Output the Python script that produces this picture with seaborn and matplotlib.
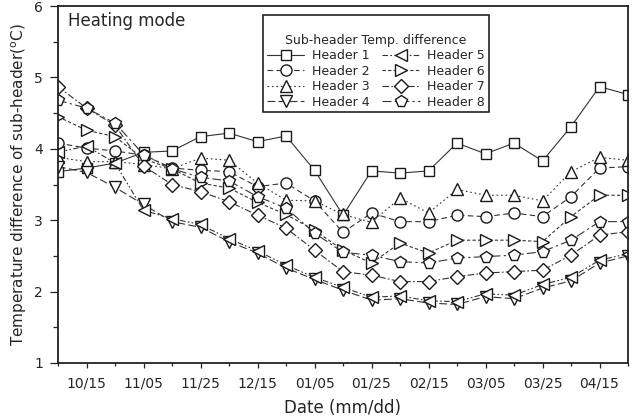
import numpy as np
import matplotlib
matplotlib.use('Agg')
import matplotlib.pyplot as plt
import seaborn as sns

# ------------------------------------------------------------
# data (~10 day interval)
# ------------------------------------------------------------
dates = ['10/05', '10/15', '10/25', '11/05', '11/15', '11/25', '12/05',
         '12/15', '12/25', '01/05', '01/15', '01/25', '02/05', '02/15',
         '02/25', '03/05', '03/15', '03/25', '04/05', '04/15', '04/25']

header1 = [3.68, 3.73, 3.80, 3.95, 3.97, 4.17, 4.22, 4.10, 4.18, 3.70, 3.07,
           3.69, 3.66, 3.69, 4.08, 3.93, 4.08, 3.83, 4.31, 4.87, 4.76]
header2 = [4.08, 4.01, 3.97, 3.91, 3.73, 3.70, 3.68, 3.47, 3.52, 3.27, 2.83,
           3.10, 2.98, 2.98, 3.07, 3.05, 3.10, 3.05, 3.33, 3.73, 3.75]
header3 = [3.88, 3.82, 3.82, 3.78, 3.72, 3.87, 3.84, 3.52, 3.28, 3.27, 3.08,
           2.97, 3.31, 3.10, 3.43, 3.35, 3.35, 3.27, 3.68, 3.88, 3.84]
header4 = [3.75, 3.67, 3.46, 3.22, 2.98, 2.90, 2.70, 2.54, 2.33, 2.17, 2.02,
           1.88, 1.90, 1.84, 1.82, 1.93, 1.90, 2.05, 2.15, 2.40, 2.50]
header5 = [3.95, 4.04, 3.80, 3.14, 3.02, 2.94, 2.74, 2.57, 2.37, 2.20, 2.06,
           1.92, 1.94, 1.87, 1.86, 1.97, 1.95, 2.10, 2.20, 2.44, 2.53]
header6 = [4.45, 4.26, 4.17, 3.86, 3.72, 3.52, 3.45, 3.25, 3.08, 2.86, 2.58,
           2.40, 2.68, 2.54, 2.72, 2.72, 2.72, 2.70, 3.05, 3.35, 3.35]
header7 = [4.87, 4.57, 4.33, 3.76, 3.50, 3.40, 3.26, 3.07, 2.89, 2.58, 2.28,
           2.23, 2.14, 2.14, 2.21, 2.26, 2.28, 2.30, 2.51, 2.79, 2.84]
header8 = [4.68, 4.57, 4.36, 3.92, 3.72, 3.60, 3.55, 3.33, 3.17, 2.82, 2.55,
           2.51, 2.42, 2.40, 2.47, 2.49, 2.51, 2.56, 2.72, 2.98, 2.98]

header_names = ['Header 1', 'Header 2', 'Header 3', 'Header 4',
                'Header 5', 'Header 6', 'Header 7', 'Header 8']
header_values = [header1, header2, header3, header4,
                 header5, header6, header7, header8]

# styles
markers = ['s', 'o', '^', 'v', '<', '>', 'D', 'p']
marker_sizes = [7.5, 8, 8.5, 8.5, 8.5, 8.5, 7, 8.5]
linestyles = ['-', (0, (5, 3)), (0, (1.5, 2.5)), (0, (7, 3)),
              (0, (5, 2, 1.5, 2, 1.5, 2)), (0, (3, 2)), (0, (6, 2, 1.5, 2)),
              (0, (8, 3, 2, 3))]

sns.set_style('ticks')
plt.rcParams['font.family'] = ['DejaVu Sans']

fig = plt.figure(figsize=(6.35, 4.18), dpi=100)
ax = fig.add_axes([58 / 635, 1 - 363 / 418, 570 / 635, 357 / 418])

x = np.arange(len(dates))
for name, vals, mk, ms, ls in zip(header_names, header_values, markers,
                                  marker_sizes, linestyles):
    sns.lineplot(x=x, y=vals, ax=ax, label=name, color='#333333',
                 linewidth=0.8, linestyle=ls, marker=mk, markersize=ms,
                 markerfacecolor='white', markeredgecolor='#1a1a1a',
                 markeredgewidth=1.0)

ax.set_xlim(0, len(dates) - 1)
ax.set_ylim(1, 6)
ax.set_xticks(x[1::2])
ax.set_xticklabels(dates[1::2])
ax.set_xticks(x[0::2], minor=True)
ax.set_yticks(np.arange(1, 7))
ax.set_yticks(np.arange(1.5, 6, 1.0), minor=True)

ax.tick_params(axis='x', which='major', length=3.6, width=0.9, pad=6,
               labelsize=10, color='#222222')
ax.tick_params(axis='x', which='minor', length=2.4, width=0.9, color='#222222')
ax.tick_params(axis='y', which='major', length=5.8, width=0.9, pad=5,
               labelsize=10, color='#222222')
ax.tick_params(axis='y', which='minor', length=3.6, width=0.9, color='#222222')

for side in ['left', 'right', 'top', 'bottom']:
    ax.spines[side].set_visible(True)
    ax.spines[side].set_linewidth(1.3)
    ax.spines[side].set_color('#222222')

ax.set_xlabel('Date (mm/dd)', fontsize=12, labelpad=6)
ax.set_ylabel('Temperature difference of sub-header($^{\\mathrm{o}}$C)',
              fontsize=11)

ax.text(0.0175, 0.944, 'Heating mode', transform=ax.transAxes,
        fontsize=12, ha='left', va='baseline')

leg = ax.legend(loc='upper left', bbox_to_anchor=(0.36, 0.975),
                borderaxespad=0, ncol=2,
                title='\nSub-header Temp. difference',
                fontsize=9, title_fontsize=9, frameon=True, fancybox=False,
                edgecolor='#222222', framealpha=1, handlelength=3.0,
                handletextpad=0.6, columnspacing=1.0, labelspacing=0.2,
                borderpad=0.3)
leg.get_frame().set_linewidth(1.2)

fig.savefig('out.png', dpi=100)
